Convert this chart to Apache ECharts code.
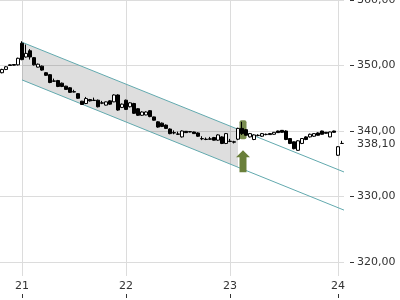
<!DOCTYPE html>
<html><head><meta charset="utf-8">
<script src="https://cdn.jsdelivr.net/npm/echarts@6/dist/echarts.min.js"></script>
<style>html,body{margin:0;padding:0;background:#fff}#c{width:400px;height:300px}</style>
</head><body><div id="c"></div>
<script>
// ---- data ----
const dayNames = ['20', '21', '22', '23', '24'];
const dayCounts = [5, 26, 26, 27, 2];
const tickDays = ['21', '22', '23', '24'];
const yTickValues = [320, 330, 340, 350, 360];

const openV = [348.9,349.4,350.1,350.15,350.1, 353.4,351.3,352.25,351.2,349.75,349.9,348.9,348.6,347.65,347.7,347.3,346.85,346.6,346.0,345.7,344.55,344.2,344.8,344.7,344.7,344.3,343.95,344.6,344.45,345.5,343.6, 344.7,343.7,344.2,343.4,342.4,342.45,343.1,342.15,341.4,341.2,340.9,340.3,339.75,339.55,339.1,339.95,339.9,339.85,339.7,338.85,338.75,338.8,339.0,338.6,339.1,338.1, 338.45,338.35,338.75,340.4,340.2,339.1,338.7,339.3,339.2,339.45,339.6,339.5,340.0,340.1,340.0,338.85,338.35,337.05,338.1,339.1,339.1,339.2,339.7,340.0,339.8,339.1,340.0, 336.3,338.1];
const closeV = [349.4,349.8,350.0,350.05,351.1, 350.9,351.85,351.3,350.1,350.2,349.3,348.5,347.4,347.6,346.8,346.8,346.35,345.9,345.95,345.0,344.05,344.95,344.6,344.65,343.7,344.25,344.45,344.1,345.5,343.2,344.1, 343.3,344.3,342.7,342.4,342.9,342.9,342.2,341.65,340.6,340.7,340.4,339.6,339.7,339.5,340.0,339.75,339.85,339.6,339.2,338.8,338.7,338.75,338.6,339.4,338.1,339.6, 338.4,338.3,340.4,339.6,339.35,339.6,339.4,339.35,339.6,339.5,339.45,339.8,339.75,339.8,338.7,338.1,337.3,338.5,338.85,338.7,339.5,339.6,339.35,339.5,339.65,339.85,339.8, 337.6,338.1];
const lowV = [348.8,349.3,349.95,350.0,350.0, 350.8,351.2,350.9,350.0,349.7,349.2,348.4,347.3,347.5,346.7,346.7,346.3,345.8,345.9,344.9,344.0,344.1,344.5,344.6,343.6,344.1,343.9,344.0,344.4,343.1,343.5, 343.2,343.6,342.6,342.3,342.3,342.4,342.1,341.6,340.5,340.6,340.3,339.5,339.5,339.4,339.0,339.7,339.8,339.55,339.1,338.6,338.6,338.65,338.55,338.5,338.0,338.0, 338.3,338.1,338.6,339.4,339.3,339.0,338.6,339.2,339.1,339.35,339.4,339.45,339.7,339.75,338.6,338.0,337.2,337.0,338.0,338.6,339.0,339.1,339.3,339.45,339.6,339.05,339.75, 336.2,338.05];
const highV = [349.5,349.9,350.15,350.2,351.2, 353.7,353.2,352.5,351.3,350.3,350.0,349.0,348.7,348.0,347.8,347.4,346.9,346.7,346.3,345.8,344.6,345.2,344.9,345.1,344.8,344.6,344.5,344.7,345.6,345.6,344.2, 344.8,344.4,344.3,343.5,343.0,343.0,343.2,342.2,341.5,341.3,341.0,340.4,340.1,339.9,340.1,340.0,340.0,339.9,339.8,339.2,339.0,339.1,339.1,339.5,339.2,339.7, 338.8,338.5,340.5,341.4,340.3,339.7,339.5,339.5,339.7,339.6,339.7,339.85,340.05,340.15,340.1,338.9,338.4,338.6,338.9,339.2,339.6,339.65,339.8,340.05,339.85,339.9,340.05, 337.7,338.5];
const lastPrice = 338.10;

const channelIdx = [5, 86];
const channelUpper = [353.55, 333.62];
const channelLower = [347.8, 327.8];
const channelFillEnd = 59;

const signalIdx = [60];
const signalBox = [338.75, 341.65];
const signalArrow = [337.05, 333.7];

// ---- build ----
const categories = [];
dayNames.forEach((d, k) => { for (let n = 0; n < dayCounts[k]; n++) categories.push(d + '/' + n); });
const isDayStart = (idx) => {
  const c = categories[idx];
  if (!c) return false;
  const [d, n] = c.split('/');
  return n === '0' && tickDays.indexOf(d) >= 0;
};
const candles = openV.map((o, i) => [o, closeV[i], lowV[i], highV[i]]);
const fmtNum = v => v.toFixed(2).replace('.', ',');
const FONT = 'DejaVu Sans';
const TXT = '#333';
const GRIDC = '#dcdcdc';

const chart = echarts.init(document.getElementById('c'), null, {renderer: 'canvas'});
const interp = (arr, x) => arr[0] + (arr[1] - arr[0]) * (x - channelIdx[0]) / (channelIdx[1] - channelIdx[0]);

chart.setOption({
  animation: false,
  grid: [
    {left: 0, right: 56, top: 0, bottom: 38, containLabel: false, outerBoundsMode: 'none'},
    {left: 0, right: 56, top: 262, height: 14, containLabel: false, outerBoundsMode: 'none'}
  ],
  xAxis: [
    {type: 'category', gridIndex: 0, data: categories, boundaryGap: true,
      axisLine: {show: false}, axisTick: {show: false}, axisLabel: {show: false},
      splitLine: {show: true, interval: isDayStart, alignWithLabel: true, lineStyle: {color: GRIDC, width: 1}}},
    {type: 'category', gridIndex: 1, data: categories, boundaryGap: true,
      axisLine: {show: false}, axisTick: {show: false},
      axisLabel: {show: true, interval: isDayStart, margin: 5, color: TXT, fontSize: 11, fontFamily: FONT,
        formatter: (v) => v.split('/')[0]},
      splitLine: {show: true, interval: isDayStart, alignWithLabel: true, lineStyle: {color: GRIDC, width: 1}}},
    {type: 'category', gridIndex: 1, data: categories, boundaryGap: true, position: 'bottom', offset: 18,
      axisLine: {show: false}, axisLabel: {show: false}, splitLine: {show: false},
      axisTick: {show: true, interval: isDayStart, alignWithLabel: true, length: 4, lineStyle: {color: TXT, width: 1}}}
  ],
  yAxis: [
    {type: 'value', gridIndex: 0, position: 'right', min: yTickValues[0], max: yTickValues[yTickValues.length - 1], interval: 10, offset: 6,
      axisLine: {show: false},
      axisTick: {show: true, length: 4, lineStyle: {color: TXT, width: 1}},
      axisLabel: {show: true, margin: 7, color: TXT, fontSize: 11, fontFamily: FONT, formatter: fmtNum, showMinLabel: true, showMaxLabel: true},
      splitLine: {show: true, lineStyle: {color: GRIDC, width: 1}}},
    {type: 'value', gridIndex: 1, min: 0, max: 1, show: false}
  ],
  series: [
    {
      type: 'custom', xAxisIndex: 0, yAxisIndex: 0, clip: true, z: 1, silent: true,
      data: [[channelIdx[0], channelUpper[0]]],
      renderItem: (params, api) => {
        const p = (x, y) => api.coord([x, y]);
        const fillPts = [
          p(channelIdx[0], channelUpper[0]), p(channelFillEnd, interp(channelUpper, channelFillEnd)),
          p(channelFillEnd, interp(channelLower, channelFillEnd)), p(channelIdx[0], channelLower[0])
        ];
        return {type: 'group', children: [
          {type: 'polygon', shape: {points: fillPts}, style: {fill: 'rgba(0,0,0,0.13)'}},
          {type: 'polyline', shape: {points: [p(channelIdx[0], channelUpper[0]), p(channelIdx[1], channelUpper[1])]}, style: {stroke: '#62a9ae', lineWidth: 1, fill: null}},
          {type: 'polyline', shape: {points: [p(channelIdx[0], channelLower[0]), p(channelIdx[1], channelLower[1])]}, style: {stroke: '#62a9ae', lineWidth: 1, fill: null}}
        ]};
      }
    },
    {
      type: 'custom', xAxisIndex: 0, yAxisIndex: 0, z: 2, silent: true,
      data: signalIdx.map(i => [i, signalBox[0], signalBox[1], signalArrow[0], signalArrow[1]]),
      renderItem: (params, api) => {
        const x = api.value(0);
        const b0 = api.coord([x, api.value(1)]);
        const b1 = api.coord([x, api.value(2)]);
        const tip = api.coord([x, api.value(3)]);
        const base = api.coord([x, api.value(4)]);
        const cx = b0[0] + 1;
        const headH = 7;
        return {type: 'group', children: [
          {type: 'rect', shape: {x: cx - 3.5, y: b1[1], width: 7, height: b0[1] - b1[1], r: 2}, style: {fill: 'rgba(98,120,48,0.85)'}},
          {type: 'polygon', shape: {points: [[cx, tip[1]], [cx + 7, tip[1] + headH], [cx + 3.5, tip[1] + headH], [cx + 3.5, base[1]], [cx - 3.5, base[1]], [cx - 3.5, tip[1] + headH], [cx - 7, tip[1] + headH]]}, style: {fill: '#6a7f3a'}}
        ]};
      }
    },
    {
      type: 'candlestick', xAxisIndex: 0, yAxisIndex: 0, z: 3, data: candles, barWidth: 3, silent: true,
      itemStyle: {color: '#ffffff', color0: '#000000', borderColor: '#000000', borderColor0: '#000000', borderWidth: 1},
      markLine: {
        silent: true, symbol: 'none', lineStyle: {color: 'rgba(0,0,0,0)', width: 1},
        label: {show: true, position: 'end', formatter: fmtNum(lastPrice), color: TXT, fontSize: 11, fontFamily: FONT, distance: 13, offset: [0, 1]},
        data: [{yAxis: lastPrice}]
      }
    }
  ]
});
</script>
</body></html>
